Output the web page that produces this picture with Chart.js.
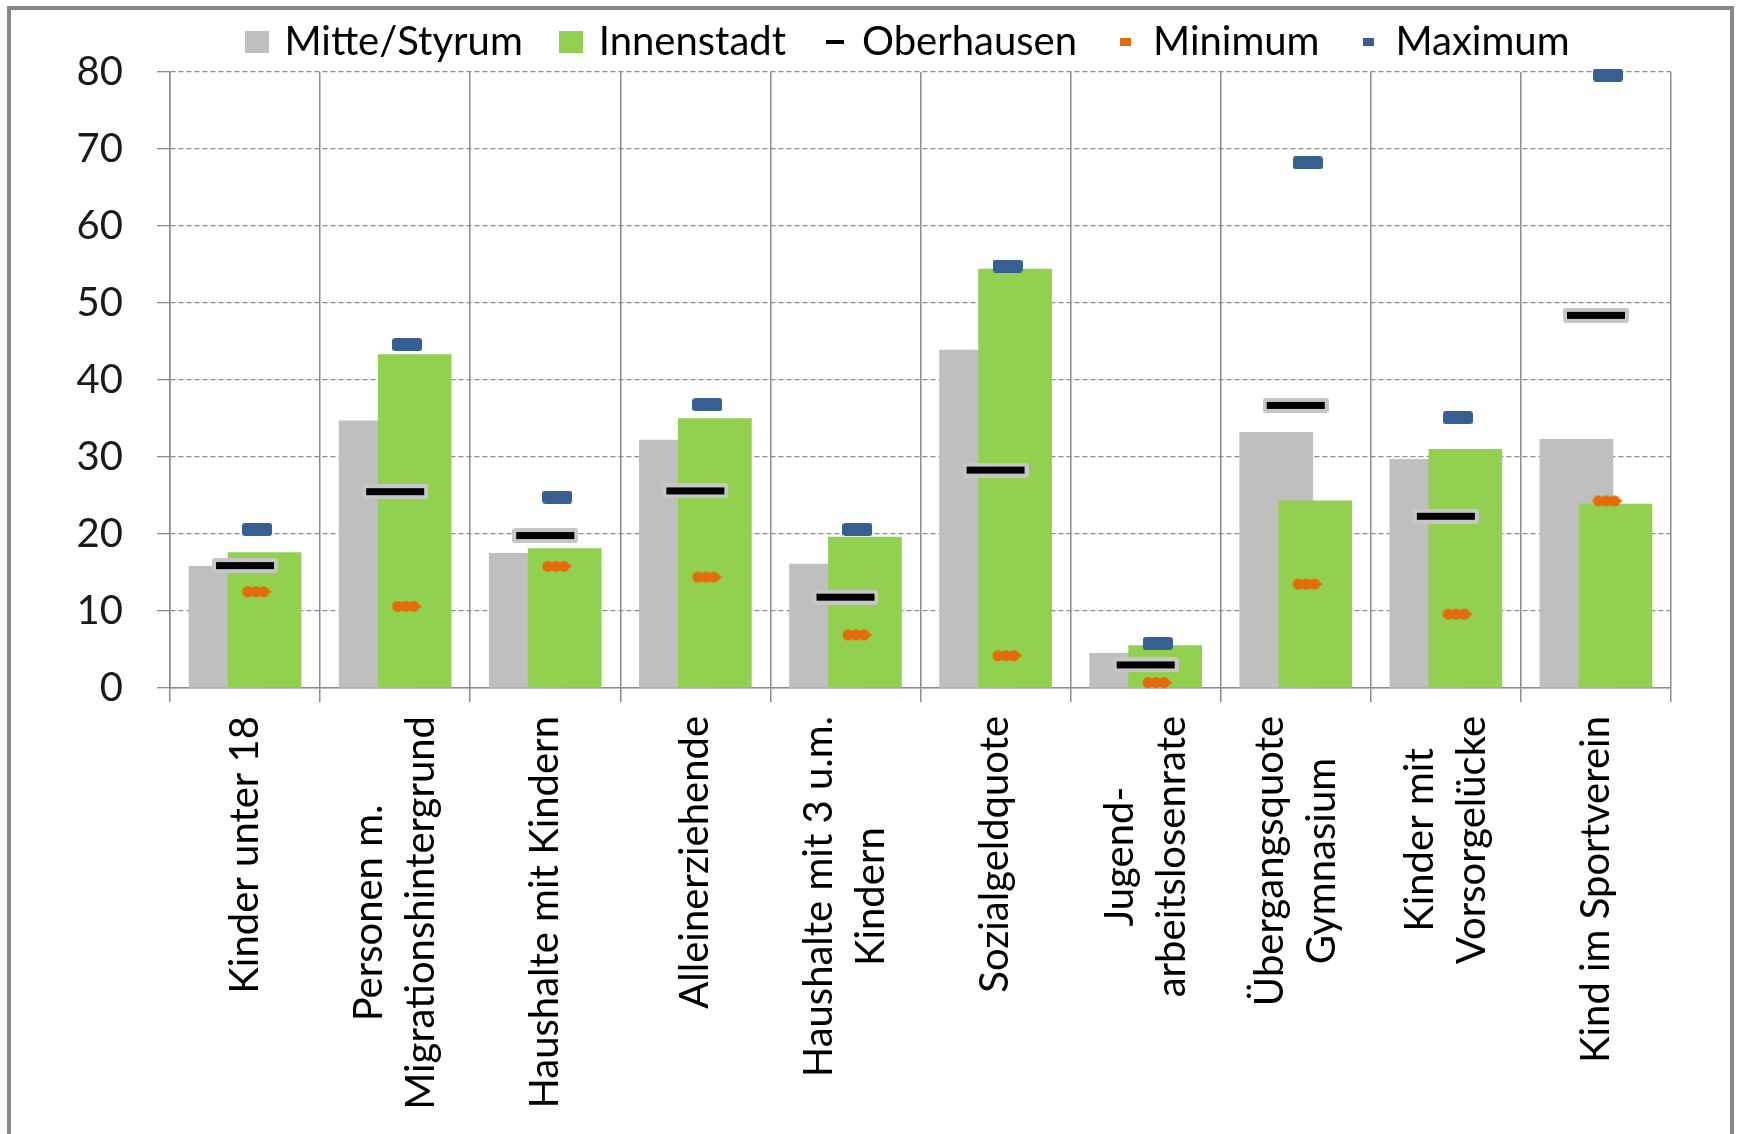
<!DOCTYPE html>
<html>
<head>
<meta charset="utf-8">
<title>Mitte/Styrum – Innenstadt</title>
<script src="https://cdn.jsdelivr.net/npm/chart.js@4.4.1/dist/chart.umd.min.js"></script>
<style>
  html, body { margin: 0; padding: 0; background: #fff; }
  #wrap { position: absolute; left: 0; top: 0; width: 1738px; height: 1134px; }
  #frame { position: absolute; left: 7px; top: 6px; width: 1727px; height: 1200px;
           border: 4px solid #878787; box-sizing: border-box; pointer-events: none; }
</style>
</head>
<body>
<div id="wrap"><canvas id="chart"></canvas></div>
<div id="frame"></div>
<script>
// categories (multi-line labels) and series values in percent
const categories = [
  ["Kinder unter 18"],
  ["Personen m.", "Migrationshintergrund"],
  ["Haushalte mit Kindern"],
  ["Alleinerziehende"],
  ["Haushalte mit 3 u.m.", "Kindern"],
  ["Sozialgeldquote"],
  ["Jugend-", "arbeitslosenrate"],
  ["Übergangsquote", "Gymnasium"],
  ["Kinder mit", "Vorsorgelücke"],
  ["Kind im Sportverein"]
];
const mitteStyrum = [15.8, 34.7, 17.5, 32.2, 16.1, 43.9, 4.5, 33.2, 29.7, 32.3];
const innenstadt  = [17.6, 43.3, 18.1, 35.0, 19.6, 54.4, 5.5, 24.3, 31.0, 23.9];
const oberhausen  = [15.9, 25.5, 19.8, 25.6, 11.8, 28.3, 3.0, 36.7, 22.3, 48.4];
const minimum     = [12.5, 10.6, 15.8, 14.4, 6.9, 4.2, 0.7, 13.5, 9.6, 24.3];
const maximum     = [20.6, 44.6, 24.8, 36.8, 20.6, 54.8, 5.8, 68.2, 35.1, 79.6];
const yTicks = [0, 10, 20, 30, 40, 50, 60, 70, 80];

const GRAY = "#bfbfbf";
const GREEN = "#92d050";
const ORANGE = "#e46c0a";
const BLUE = "#376092";
const GRID = "#8c8c8c";

// bars overlap: each series is shifted off the category centre
const BAR_SHIFT = 0.13;
const MARK_SHIFT = 0.08;

function roundRect(g, x, y, w, h, r) {
  g.beginPath();
  g.moveTo(x + r, y);
  g.lineTo(x + w - r, y);
  g.quadraticCurveTo(x + w, y, x + w, y + r);
  g.lineTo(x + w, y + h - r);
  g.quadraticCurveTo(x + w, y + h, x + w - r, y + h);
  g.lineTo(x + r, y + h);
  g.quadraticCurveTo(x, y + h, x, y + h - r);
  g.lineTo(x, y + r);
  g.quadraticCurveTo(x, y, x + r, y);
  g.closePath();
  g.fill();
}

function makeMark(w, h, paint) {
  const c = document.createElement("canvas");
  c.width = w;
  c.height = h;
  paint(c.getContext("2d"), w, h);
  return c;
}

// point markers
const oberMark = makeMark(66, 15, (g, w, h) => {
  g.fillStyle = "#c6c6c6";
  roundRect(g, 0, 0, w, h, 3);
  g.fillStyle = "#000";
  g.fillRect(4, 4, w - 8, h - 8);
});
const minMark = makeMark(31, 13, (g) => {
  g.fillStyle = ORANGE;
  [6, 14, 22].forEach((cx) => {
    g.beginPath();
    g.arc(cx, 6.5, 5.5, 0, Math.PI * 2);
    g.fill();
  });
  g.fillRect(6, 2.5, 16, 8);
  g.beginPath();
  g.moveTo(22, 1.5);
  g.lineTo(30.5, 6.5);
  g.lineTo(22, 11.5);
  g.closePath();
  g.fill();
});
const maxMark = makeMark(30, 13, (g, w, h) => {
  g.fillStyle = BLUE;
  roundRect(g, 0, 0, w, h, 3);
});

// legend symbols
const legendMarks = [
  makeMark(24, 22, (g, w, h) => { g.fillStyle = GRAY; g.fillRect(0, 0, w, h); }),
  makeMark(24, 22, (g, w, h) => { g.fillStyle = GREEN; g.fillRect(0, 0, w, h); }),
  makeMark(18, 4, (g, w, h) => { g.fillStyle = "#000"; g.fillRect(0, 0, w, h); }),
  makeMark(11, 8, (g, w, h) => { g.fillStyle = ORANGE; g.fillRect(0, 0, w, h); }),
  makeMark(11, 8, (g, w, h) => { g.fillStyle = BLUE; g.fillRect(0, 0, w, h); })
];

const at = (values, shift) => values.map((v, i) => ({ x: i + shift, y: v }));

// rotated, centre-aligned multi-line category labels
const categoryLabels = {
  id: "categoryLabels",
  afterDraw(chart) {
    const scale = chart.scales.x;
    const ctx = chart.ctx;
    const lineHeight = 52;
    const top = scale.top + 28;
    ctx.save();
    ctx.font = "40px Lato";
    ctx.fillStyle = "#000";
    ctx.textAlign = "center";
    ctx.textBaseline = "middle";
    categories.forEach((lines, i) => {
      const cx = scale.getPixelForValue(i);
      const longest = Math.max(...lines.map((l) => ctx.measureText(l).width));
      const cy = top + longest / 2;
      lines.forEach((line, j) => {
        ctx.save();
        ctx.translate(cx + (j - (lines.length - 1) / 2) * lineHeight, cy);
        ctx.rotate(-Math.PI / 2);
        ctx.fillText(line, 0, 0);
        ctx.restore();
      });
    });
    ctx.restore();
  }
};

// the legend sits a little left of the plot centre
const legendShift = {
  id: "legendShift",
  afterLayout(chart) {
    chart.legend.left -= 11;
    chart.legend.right -= 11;
  }
};

Chart.defaults.font.family = "Lato";
Chart.defaults.color = "#000";

new Chart(document.getElementById("chart"), {
  type: "bar",
  data: {
    datasets: [
      {
        label: "Mitte/Styrum",
        data: at(mitteStyrum, -BAR_SHIFT),
        backgroundColor: GRAY,
        xAxisID: "xv",
        order: 2
      },
      {
        label: "Innenstadt",
        data: at(innenstadt, BAR_SHIFT),
        backgroundColor: GREEN,
        xAxisID: "xv",
        order: 1
      },
      {
        type: "line",
        label: "Oberhausen",
        data: at(oberhausen, 0),
        showLine: false,
        pointStyle: oberMark,
        xAxisID: "xv",
        clip: false,
        order: 0
      },
      {
        type: "line",
        label: "Minimum",
        data: at(minimum, MARK_SHIFT),
        showLine: false,
        pointStyle: minMark,
        xAxisID: "xv",
        clip: false,
        order: 0
      },
      {
        type: "line",
        label: "Maximum",
        data: at(maximum, MARK_SHIFT),
        showLine: false,
        pointStyle: maxMark,
        xAxisID: "xv",
        clip: false,
        order: 0
      }
    ]
  },
  options: {
    responsive: true,
    maintainAspectRatio: false,
    animation: false,
    devicePixelRatio: 1,
    events: [],
    grouped: false,
    barThickness: 73,
    borderWidth: 0,
    layout: { padding: { left: 0, right: 67, top: -19, bottom: 0 } },
    plugins: {
      tooltip: { enabled: false },
      legend: {
        position: "top",
        align: "center",
        fullSize: false,
        labels: {
          usePointStyle: true,
          boxWidth: 15,
          boxHeight: 40,
          padding: 41,
          color: "#000",
          font: { family: "Lato", size: 40 },
          sort: (a, b) => a.datasetIndex - b.datasetIndex,
          generateLabels(chart) {
            const items = Chart.defaults.plugins.legend.labels.generateLabels(chart);
            items.forEach((item) => { item.pointStyle = legendMarks[item.datasetIndex]; });
            return items;
          }
        }
      }
    },
    scales: {
      x: {
        type: "category",
        labels: categories,
        offset: true,
        grid: { offset: true, color: GRID, lineWidth: 1.5, tickLength: 14, tickColor: GRID },
        border: { display: true, color: GRID, width: 1.5 },
        ticks: { display: false },
        afterFit(axis) { axis.height = 446; }
      },
      xv: {
        type: "linear",
        display: false,
        min: -0.5,
        max: 9.5,
        offset: false,
        grid: { offset: false }
      },
      y: {
        min: 0,
        max: 80,
        afterBuildTicks(axis) { axis.ticks = yTicks.map((v) => ({ value: v })); },
        ticks: { color: "#1a1a1a", font: { family: "Lato", size: 40 }, padding: 34 },
        grid: { color: GRID, lineWidth: 1.3, tickLength: 13, tickColor: GRID, tickBorderDash: [] },
        border: { display: true, color: GRID, width: 1.5, dash: [5, 3] },
        afterFit(axis) { axis.width = 170; }
      }
    }
  },
  plugins: [categoryLabels, legendShift]
});
</script>
</body>
</html>
